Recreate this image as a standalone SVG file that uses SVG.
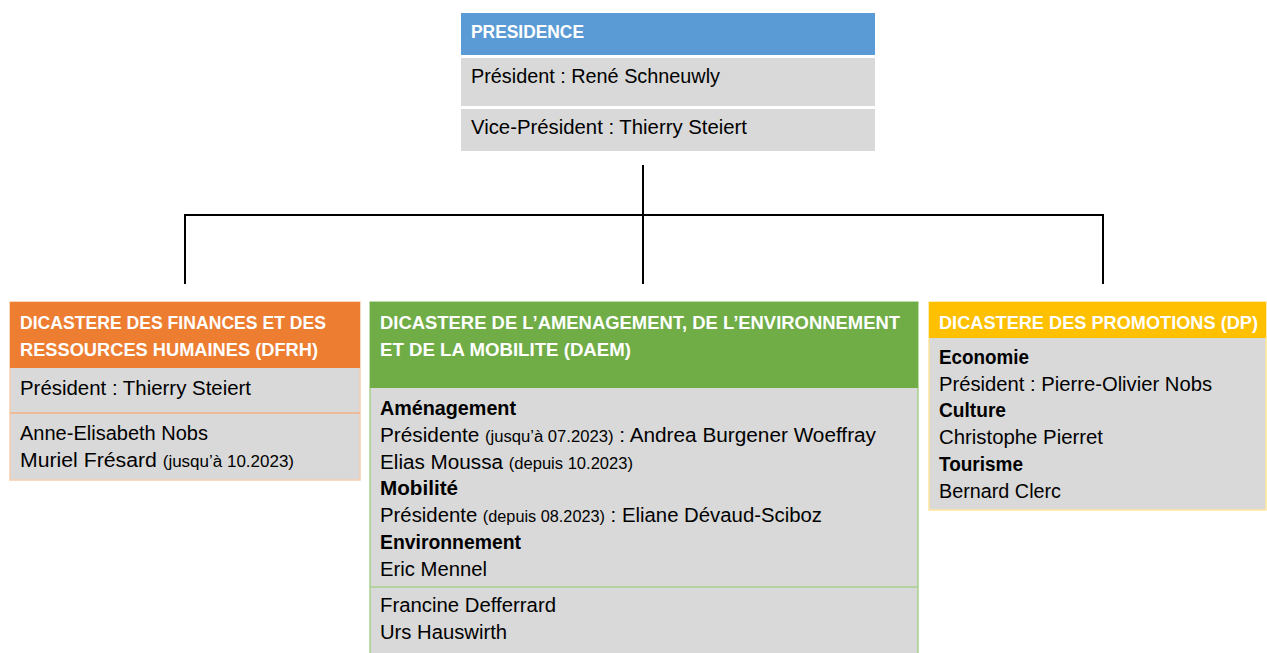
<svg xmlns="http://www.w3.org/2000/svg" width="1267" height="653" viewBox="0 0 1267 653">
<style>
text{font-family:"Liberation Sans",Arial,sans-serif;font-size:20px;fill:#000}
.h{font-weight:bold;fill:#fff;font-size:19px}
.hs{font-size:18px}
.b{font-weight:bold}
.s{font-size:16px}
.row{fill:#D9D9D9}
.conn{stroke:#000;stroke-width:2;fill:none}
</style>
<rect width="1267" height="653" fill="#fff"/>
<g id="connectors">
<line class="conn" x1="643" y1="165" x2="643" y2="284"/>
<line class="conn" x1="185" y1="215" x2="1103" y2="215"/>
<line class="conn" x1="185" y1="214" x2="185" y2="284"/>
<line class="conn" x1="1103" y1="214" x2="1103" y2="284"/>
</g>
<g id="presidence">
<rect x="461" y="13" width="414" height="42" fill="#5B9BD5"/>
<rect class="row" x="461" y="58" width="414" height="48"/>
<rect class="row" x="461" y="109" width="414" height="42"/>
<text class="h" x="471" y="38" textLength="113" lengthAdjust="spacingAndGlyphs">PRESIDENCE</text>
<text x="471" y="83" textLength="249" lengthAdjust="spacingAndGlyphs">Président : René Schneuwly</text>
<text x="471" y="134" textLength="276" lengthAdjust="spacingAndGlyphs">Vice-Président : Thierry Steiert</text>
</g>
<g id="dfrh">
<rect x="10" y="302" width="350" height="178" fill="#D9D9D9" stroke="#F8CBAD" stroke-width="1.5"/>
<rect x="10" y="302" width="350" height="66" fill="#ED7D31"/>
<line x1="10" y1="413" x2="360" y2="413" stroke="#F4B183" stroke-width="1.5"/>
<text class="h" x="20" y="329" textLength="306" lengthAdjust="spacingAndGlyphs">DICASTERE DES FINANCES ET DES</text>
<text class="h" x="20" y="356" textLength="298" lengthAdjust="spacingAndGlyphs">RESSOURCES HUMAINES (DFRH)</text>
<text x="20" y="395" textLength="231" lengthAdjust="spacingAndGlyphs">Président : Thierry Steiert</text>
<text x="20" y="440" textLength="188" lengthAdjust="spacingAndGlyphs">Anne-Elisabeth Nobs</text>
<text x="20" y="467" textLength="274" lengthAdjust="spacingAndGlyphs">Muriel Frésard <tspan class="s">(jusqu’à 10.2023)</tspan></text>
</g>
<g id="daem">
<rect x="370" y="302" width="548" height="360" fill="#D9D9D9" stroke="#A9D18E" stroke-width="1.5"/>
<rect x="370" y="302" width="548" height="86" fill="#70AD47"/>
<line x1="370" y1="587" x2="918" y2="587" stroke="#A9D18E" stroke-width="1.5"/>
<text class="h" x="380" y="329" textLength="520" lengthAdjust="spacingAndGlyphs">DICASTERE DE L’AMENAGEMENT, DE L’ENVIRONNEMENT</text>
<text class="h" x="380" y="356" textLength="251" lengthAdjust="spacingAndGlyphs">ET DE LA MOBILITE (DAEM)</text>
<text class="b" x="380" y="415" textLength="136" lengthAdjust="spacingAndGlyphs">Aménagement</text>
<text x="380" y="442" textLength="496" lengthAdjust="spacingAndGlyphs">Présidente <tspan class="s">(jusqu’à 07.2023)</tspan> : Andrea Burgener Woeffray</text>
<text x="380" y="469" textLength="253" lengthAdjust="spacingAndGlyphs">Elias Moussa <tspan class="s">(depuis 10.2023)</tspan></text>
<text class="b" x="380" y="495" textLength="78" lengthAdjust="spacingAndGlyphs">Mobilité</text>
<text x="380" y="522" textLength="442" lengthAdjust="spacingAndGlyphs">Présidente <tspan class="s">(depuis 08.2023)</tspan> : Eliane Dévaud-Sciboz</text>
<text class="b" x="380" y="549" textLength="141" lengthAdjust="spacingAndGlyphs">Environnement</text>
<text x="380" y="576" textLength="107" lengthAdjust="spacingAndGlyphs">Eric Mennel</text>
<text x="380" y="612" textLength="176" lengthAdjust="spacingAndGlyphs">Francine Defferrard</text>
<text x="380" y="639" textLength="127" lengthAdjust="spacingAndGlyphs">Urs Hauswirth</text>
</g>
<g id="dp">
<rect x="929" y="302" width="337" height="208" fill="#D9D9D9" stroke="#FFE699" stroke-width="1.5"/>
<rect x="929" y="302" width="337" height="36" fill="#FFC000"/>
<text class="h hs" x="939" y="329" textLength="319" lengthAdjust="spacingAndGlyphs">DICASTERE DES PROMOTIONS (DP)</text>
<text class="b" x="939" y="364" textLength="90" lengthAdjust="spacingAndGlyphs">Economie</text>
<text x="939" y="391" textLength="273" lengthAdjust="spacingAndGlyphs">Président : Pierre-Olivier Nobs</text>
<text class="b" x="939" y="417" textLength="67" lengthAdjust="spacingAndGlyphs">Culture</text>
<text x="939" y="444" textLength="164" lengthAdjust="spacingAndGlyphs">Christophe Pierret</text>
<text class="b" x="939" y="471" textLength="84" lengthAdjust="spacingAndGlyphs">Tourisme</text>
<text x="939" y="498" textLength="122" lengthAdjust="spacingAndGlyphs">Bernard Clerc</text>
</g>
</svg>
